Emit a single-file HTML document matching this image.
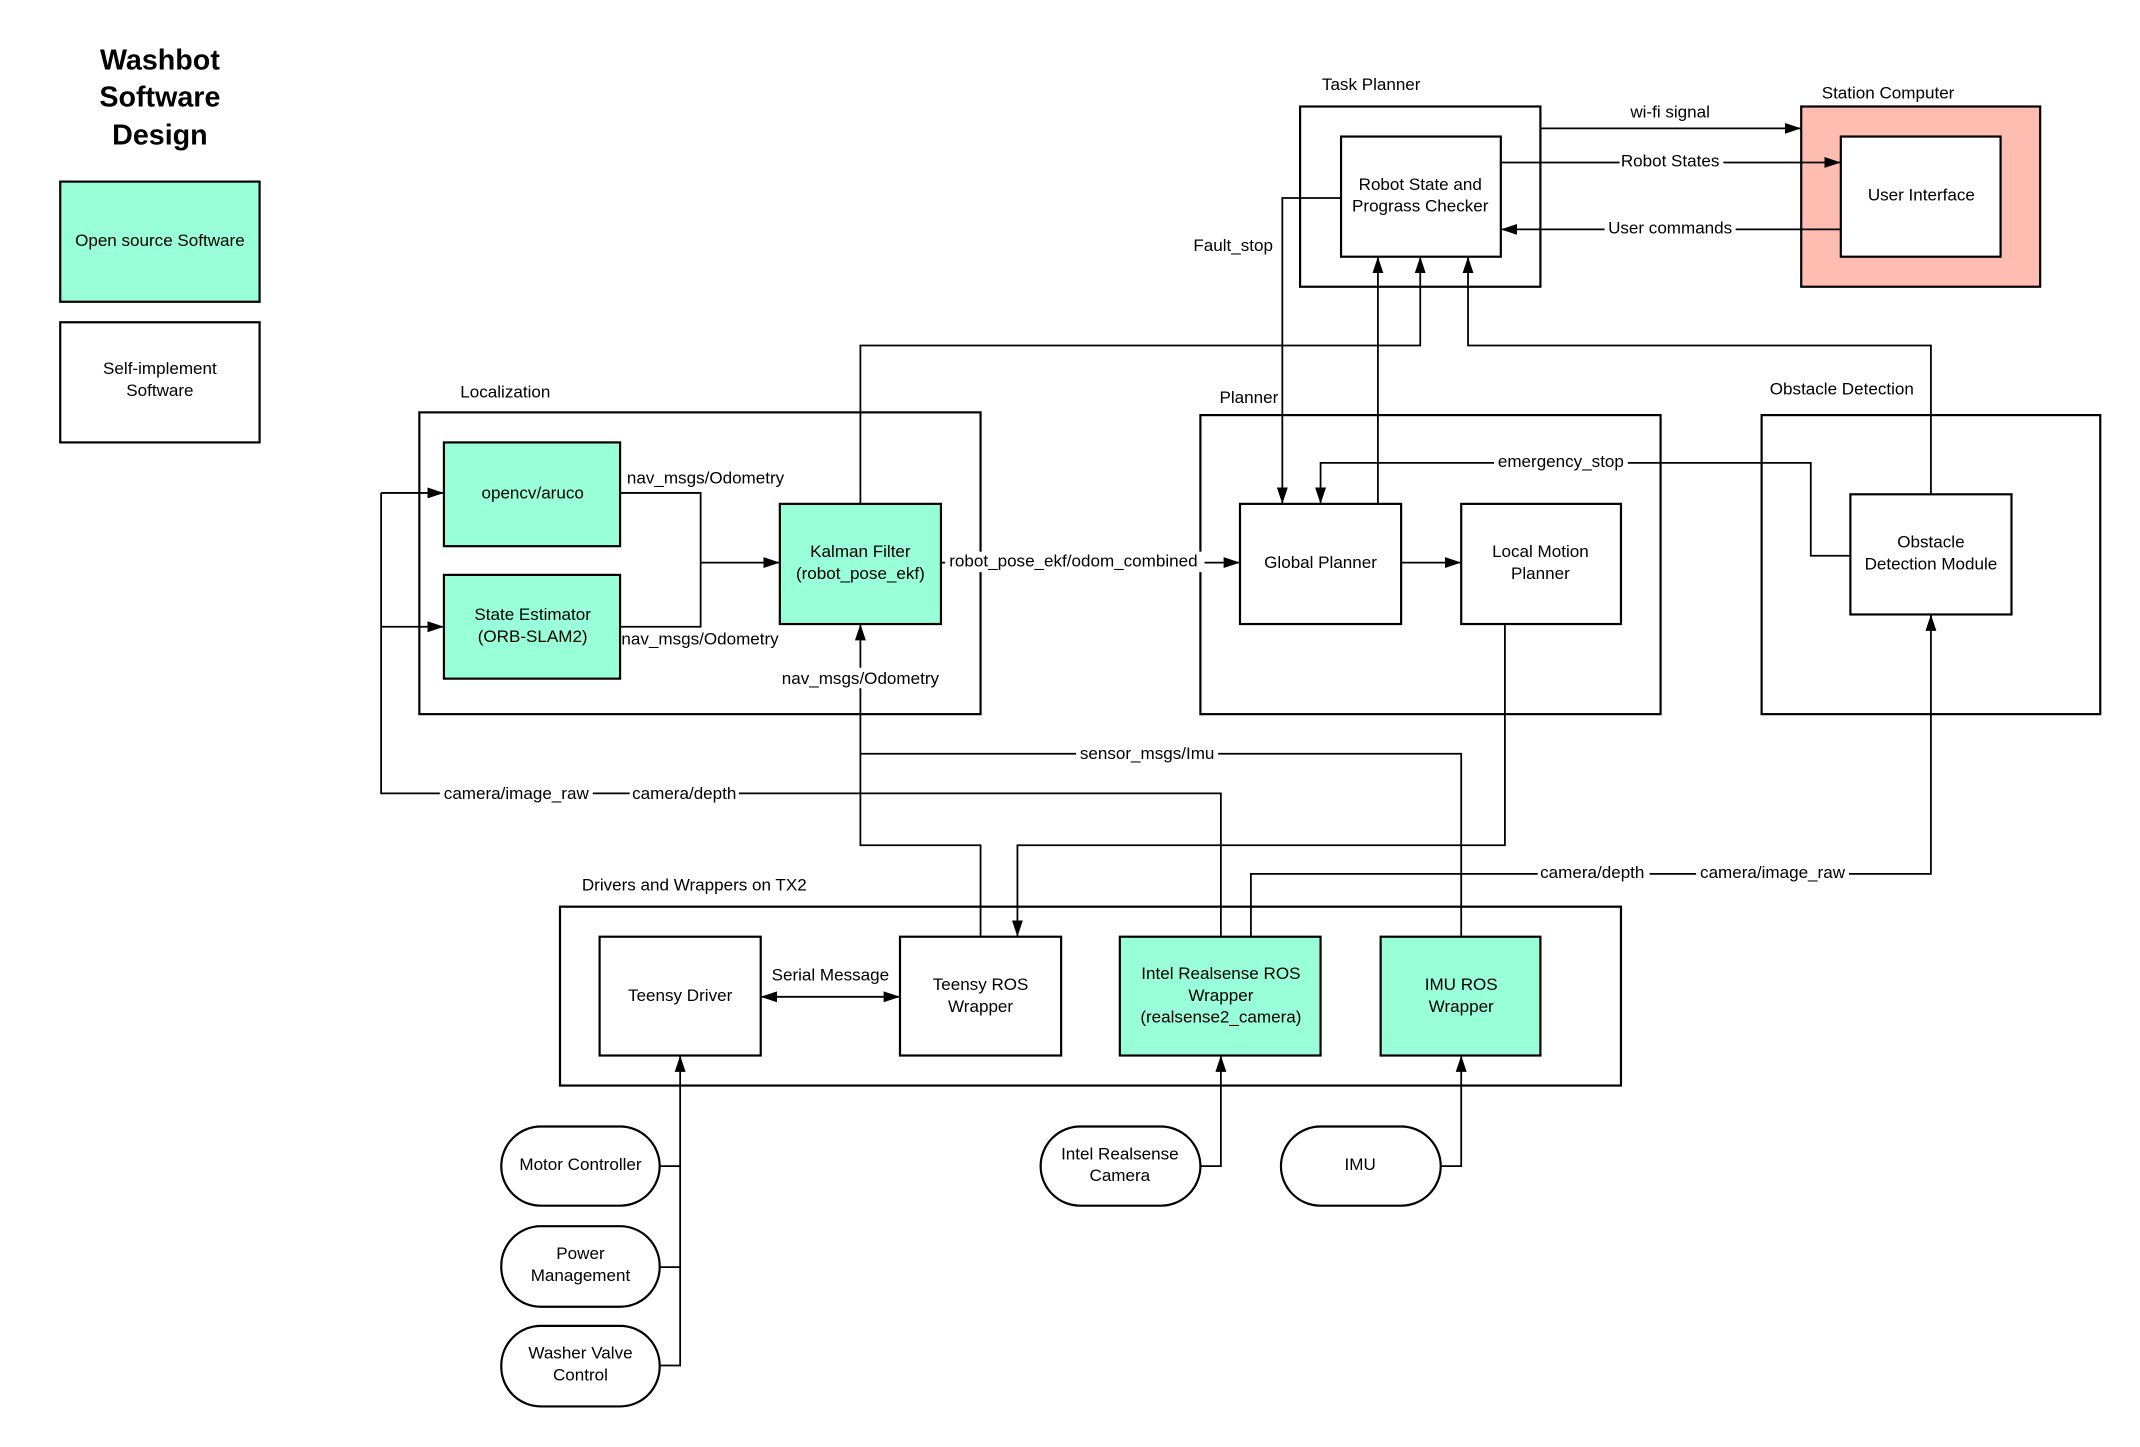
<!DOCTYPE html>
<html><head><meta charset="utf-8"><style>html,body{margin:0;padding:0;background:#fff}svg{display:block}text{font-family:"Liberation Sans",sans-serif;font-size:12.5px;fill:#000}</style></head>
<body>
<svg width="2140" height="1447" viewBox="0 0 1567 1059.7" xmlns="http://www.w3.org/2000/svg">
<defs><marker id="a" viewBox="0 0 12 10" refX="12" refY="5" markerWidth="12" markerHeight="10" markerUnits="userSpaceOnUse" orient="auto-start-reverse"><path d="M0,1 L12,5 L0,9 z" fill="#000"/></marker></defs>
<rect width="1567" height="1060" fill="#fff"/>
<g text-anchor="middle" font-weight="bold"><text x="117" y="51" style="font-size:21px;font-weight:bold">Washbot</text><text x="117" y="78" style="font-size:21px;font-weight:bold">Software</text><text x="117" y="106" style="font-size:21px;font-weight:bold">Design</text></g>
<g stroke="#000" stroke-width="1.6">
<rect x="44" y="133" width="146" height="88" fill="#99ffd8"/>
<rect x="44" y="236" width="146" height="88" fill="#fff"/>
<rect x="307" y="302" width="411" height="221" fill="none"/>
<rect x="325" y="324" width="129" height="76" fill="#99ffd8"/>
<rect x="325" y="421" width="129" height="76" fill="#99ffd8"/>
<rect x="571" y="369" width="118" height="88" fill="#99ffd8"/>
<rect x="952" y="78" width="176" height="132" fill="none"/>
<rect x="982" y="100" width="117" height="88" fill="#fff"/>
<rect x="1319" y="78" width="175" height="132" fill="#ffbcb0"/>
<rect x="1348" y="100" width="117" height="88" fill="#fff"/>
<rect x="879" y="304" width="337" height="219" fill="none"/>
<rect x="908" y="369" width="118" height="88" fill="#fff"/>
<rect x="1070" y="369" width="117" height="88" fill="#fff"/>
<rect x="1290" y="304" width="248" height="219" fill="none"/>
<rect x="1355" y="362" width="118" height="88" fill="#fff"/>
<rect x="410" y="664" width="777" height="131" fill="none"/>
<rect x="439" y="686" width="118" height="87" fill="#fff"/>
<rect x="659" y="686" width="118" height="87" fill="#fff"/>
<rect x="820" y="686" width="147" height="87" fill="#99ffd8"/>
<rect x="1011" y="686" width="117" height="87" fill="#99ffd8"/>
<rect x="367" y="825" width="116" height="58" rx="29" fill="#fff"/>
<rect x="367" y="898" width="116" height="59" rx="29" fill="#fff"/>
<rect x="367" y="971" width="116" height="59" rx="29" fill="#fff"/>
<rect x="762" y="825" width="117" height="58" rx="29" fill="#fff"/>
<rect x="938" y="825" width="117" height="58" rx="29" fill="#fff"/>
</g>
<g stroke="#000" stroke-width="1.3" fill="none">
<polyline points="454,361 513,361 513,459 454,459"/>
<line x1="513" y1="412" x2="571" y2="412" marker-end="url(#a)"/>
<line x1="279" y1="361" x2="325" y2="361" marker-end="url(#a)"/>
<line x1="279" y1="459" x2="325" y2="459" marker-end="url(#a)"/>
<polyline points="279,361 279,581 894,581 894,686"/>
<polyline points="630,369 630,253 1040,253 1040,188" marker-end="url(#a)"/>
<line x1="689" y1="412" x2="908" y2="412" marker-end="url(#a)"/>
<polyline points="718,686 718,619 630,619 630,457" marker-end="url(#a)"/>
<polyline points="630,552 1070,552 1070,686"/>
<line x1="1128" y1="94" x2="1319" y2="94" marker-end="url(#a)"/>
<line x1="1099" y1="119" x2="1348" y2="119" marker-end="url(#a)"/>
<line x1="1348" y1="168" x2="1099" y2="168" marker-end="url(#a)"/>
<polyline points="982,145 939,145 939,369" marker-end="url(#a)"/>
<line x1="1009" y1="369" x2="1009" y2="188" marker-end="url(#a)"/>
<polyline points="1414,362 1414,253 1075,253 1075,188" marker-end="url(#a)"/>
<line x1="1026" y1="412" x2="1070" y2="412" marker-end="url(#a)"/>
<polyline points="1355,407 1326,407 1326,339 967,339 967,369" marker-end="url(#a)"/>
<polyline points="1102,457 1102,619 745,619 745,686" marker-end="url(#a)"/>
<polyline points="916,686 916,640 1414,640 1414,450" marker-end="url(#a)"/>
<line x1="557" y1="730" x2="659" y2="730" marker-start="url(#a)" marker-end="url(#a)"/>
<polyline points="483,854 498,854"/><polyline points="483,928 498,928"/>
<polyline points="483,1000 498,1000 498,773" marker-end="url(#a)"/>
<polyline points="879,854 894,854 894,773" marker-end="url(#a)"/>
<polyline points="1055,854 1070,854 1070,773" marker-end="url(#a)"/>
</g>
<g fill="#fff">
<rect x="322" y="573" width="112" height="15"/><rect x="461" y="573" width="80" height="15"/>
<rect x="692" y="404" width="190" height="15"/><rect x="568" y="489" width="124" height="15"/>
<rect x="788" y="544" width="104" height="15"/><rect x="1186" y="111" width="76" height="15"/>
<rect x="1175" y="160" width="96" height="15"/><rect x="1094" y="331" width="98" height="15"/>
<rect x="1126" y="632" width="82" height="15"/><rect x="1242" y="632" width="112" height="15"/>
</g>
<g text-anchor="middle">
<text x="117" y="180">Open source Software</text>
<text x="117" y="274">Self-implement</text><text x="117" y="290">Software</text>
<text x="390" y="365">opencv/aruco</text>
<text x="390" y="454">State Estimator</text><text x="390" y="470">(ORB-SLAM2)</text>
<text x="630" y="408">Kalman Filter</text><text x="630" y="424">(robot_pose_ekf)</text>
<text x="1040" y="139">Robot State and</text><text x="1040" y="155">Prograss Checker</text>
<text x="1407" y="147">User Interface</text>
<text x="967" y="416">Global Planner</text>
<text x="1128" y="408">Local Motion</text><text x="1128" y="424">Planner</text>
<text x="1414" y="401">Obstacle</text><text x="1414" y="417">Detection Module</text>
<text x="498" y="733">Teensy Driver</text>
<text x="718" y="725">Teensy ROS</text><text x="718" y="741">Wrapper</text>
<text x="894" y="717">Intel Realsense ROS</text><text x="894" y="733">Wrapper</text><text x="894" y="749">(realsense2_camera)</text>
<text x="1070" y="725">IMU ROS</text><text x="1070" y="741">Wrapper</text>
<text x="425" y="857">Motor Controller</text>
<text x="425" y="922">Power</text><text x="425" y="938">Management</text>
<text x="425" y="995">Washer Valve</text><text x="425" y="1011">Control</text>
<text x="820" y="849">Intel Realsense</text><text x="820" y="865">Camera</text>
<text x="996" y="857">IMU</text>
<text x="378" y="585">camera/image_raw</text><text x="501" y="585">camera/depth</text>
<text x="786" y="415">robot_pose_ekf/odom_combined</text>
<text x="630" y="501">nav_msgs/Odometry</text>
<text x="840" y="556">sensor_msgs/Imu</text>
<text x="1223" y="86">wi-fi signal</text>
<text x="1223" y="122">Robot States</text>
<text x="1223" y="171">User commands</text>
<text x="903" y="184">Fault_stop</text>
<text x="1143" y="342">emergency_stop</text>
<text x="1166" y="643">camera/depth</text><text x="1298" y="643">camera/image_raw</text>
<text x="608" y="718">Serial Message</text>
</g>
<g>
<text x="337" y="291">Localization</text>
<text x="459" y="354">nav_msgs/Odometry</text>
<text x="455" y="472">nav_msgs/Odometry</text>
<text x="968" y="66">Task Planner</text>
<text x="1334" y="72">Station Computer</text>
<text x="893" y="295">Planner</text>
<text x="1296" y="289">Obstacle Detection</text>
<text x="426" y="652">Drivers and Wrappers on TX2</text>
</g>
</svg>
</body></html>
